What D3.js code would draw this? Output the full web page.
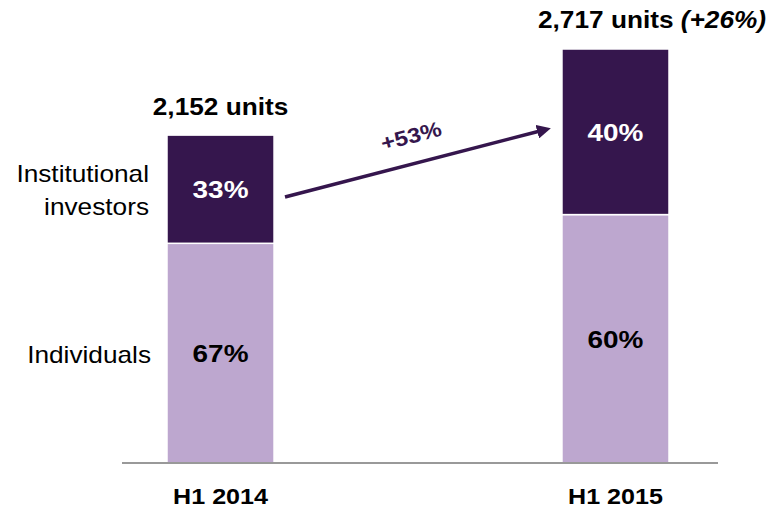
<!DOCTYPE html>
<html>
<head>
<meta charset="utf-8">
<script src="https://cdn.jsdelivr.net/npm/d3@7"></script>
<style>
  html, body { margin: 0; padding: 0; background: #fff; }
  text { font-family: "Liberation Sans", Arial, sans-serif; }
</style>
</head>
<body>
<svg id="chart" width="775" height="514"></svg>
<script>
// ---- data ----
const categories = ["H1 2014", "H1 2015"];
const totals = [2152, 2717];
const individualsShare = [67, 60];
const institutionalShare = [33, 40];
const totalLabels = ["2,152 units", "2,717 units"];
const growthLabel = "(+26%)";
const arrowLabel = "+53%";
const seriesNames = ["Individuals", "Institutional investors"];

const dark = "#35164D";
const light = "#BDA7CF";
const SX = 1.14; // horizontal text stretch as in the reference

const svg = d3.select("#chart");
const baseY = 463;

const x = d3.scaleBand().domain(categories).range([167, 669]).paddingInner(0.729).paddingOuter(0);
const y = d3.scaleLinear().domain([0, d3.max(totals)]).range([baseY, 49]);

const rows = categories.map((c, i) => ({
  cat: c,
  total: totals[i],
  Individuals: totals[i] * individualsShare[i] / 100,
  Institutional: totals[i] * institutionalShare[i] / 100,
  indS: individualsShare[i],
  instS: institutionalShare[i]
}));
const stack = d3.stack().keys(["Individuals", "Institutional"]);
const series = stack(rows);
const colors = { Individuals: light, Institutional: dark };

const tr = (px, py) => `translate(${px},${py}) scale(${SX},1)`;

const g = svg.append("g");
series.forEach(s => {
  g.selectAll(null).data(s).enter().append("rect")
    .attr("x", d => x(d.data.cat))
    .attr("width", x.bandwidth())
    .attr("y", d => y(d[1]))
    .attr("height", d => y(d[0]) - y(d[1]))
    .attr("fill", colors[s.key])
    .attr("stroke", "#fff")
    .attr("stroke-width", 1.5);
  g.selectAll(null).data(s).enter().append("text")
    .attr("transform", d => tr(x(d.data.cat) + x.bandwidth() / 2, (y(d[0]) + y(d[1])) / 2))
    .attr("dy", "0.36em")
    .attr("text-anchor", "middle")
    .attr("font-weight", "bold")
    .attr("font-size", 24.5)
    .attr("fill", s.key === "Institutional" ? "#fff" : "#000")
    .text(d => (s.key === "Institutional" ? d.data.instS : d.data.indS) + "%");
});

// baseline
svg.append("line").attr("x1", 122).attr("x2", 718).attr("y1", baseY).attr("y2", baseY)
  .attr("stroke", "#999").attr("stroke-width", 2);

// category labels
svg.selectAll(".cat").data(categories).enter().append("text")
  .attr("transform", d => tr(x(d) + x.bandwidth() / 2, 504))
  .attr("text-anchor", "middle").attr("font-weight", "bold").attr("font-size", 22)
  .text(d => d);

// total labels
svg.append("text").attr("transform", tr(x(categories[0]) + x.bandwidth() / 2, y(totals[0]) - 20))
  .attr("text-anchor", "middle").attr("font-weight", "bold").attr("font-size", 23)
  .text(totalLabels[0]);
const t2 = svg.append("text").attr("transform", tr(538, y(totals[1]) - 21))
  .attr("font-weight", "bold").attr("font-size", 23);
t2.append("tspan").text(totalLabels[1] + " ");
t2.append("tspan").attr("font-style", "italic").text(growthLabel);

// series labels
svg.append("text").attr("transform", tr(149, 182)).attr("text-anchor", "end").attr("font-size", 23).text("Institutional");
svg.append("text").attr("transform", tr(149, 215)).attr("text-anchor", "end").attr("font-size", 23).text("investors");
svg.append("text").attr("transform", tr(151, 363)).attr("text-anchor", "end").attr("font-size", 23).text(seriesNames[0]);

// arrow
const defs = svg.append("defs");
defs.append("marker").attr("id", "ah").attr("viewBox", "0 0 10 10").attr("refX", 2).attr("refY", 5)
  .attr("markerWidth", 4).attr("markerHeight", 4).attr("orient", "auto")
  .append("path").attr("d", "M0,0 L10,5 L0,10 z").attr("fill", dark);
const ax1 = 285, ay1 = 197, ax2 = 540, ay2 = 131;
svg.append("line").attr("x1", ax1).attr("y1", ay1).attr("x2", ax2).attr("y2", ay2)
  .attr("stroke", dark).attr("stroke-width", 3.5).attr("marker-end", "url(#ah)");
const ang = Math.atan2(ay2 - ay1, ax2 - ax1) * 180 / Math.PI;
svg.append("text").attr("transform", `translate(413,143) rotate(${ang}) scale(${SX},1)`)
  .attr("text-anchor", "middle").attr("font-weight", "bold").attr("font-size", 21).attr("fill", dark)
  .text(arrowLabel);
</script>
</body>
</html>
